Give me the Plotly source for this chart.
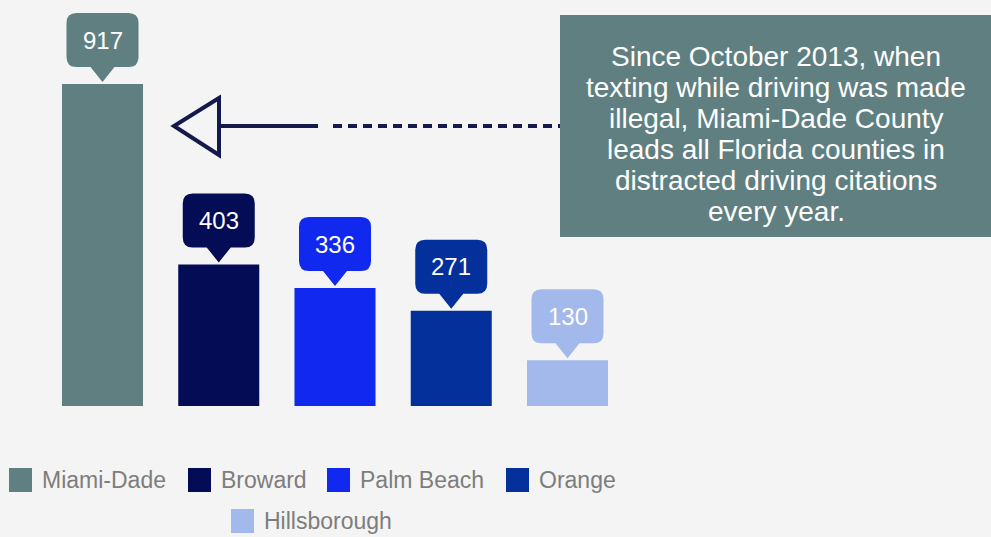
import plotly.graph_objects as go

# ---- data ----
counties = ["Miami-Dade", "Broward", "Palm Beach", "Orange", "Hillsborough"]
citations = [917, 403, 336, 271, 130]
colors = ["#5f7f81", "#030c55", "#1129ef", "#04309b", "#a3b8eb"]
note_lines = [
    "Since October 2013, when",
    "texting while driving was made",
    "illegal, Miami-Dade County",
    "leads all Florida counties in",
    "distracted driving citations",
    "every year.",
]

W, H = 991, 537
FONT = "Arial, Liberation Sans, sans-serif"
BG = "#f4f4f4"

# pixel helpers (plot area == whole figure)
def px(x):
    return x / W

def py(y):
    return 1 - y / H

idx = list(range(len(counties)))

fig = go.Figure()
fig.add_trace(go.Bar(
    x=idx, y=citations, marker=dict(color=colors, line=dict(width=0)),
    width=0.697, showlegend=False, hoverinfo="skip",
))

shapes = []
annotations = []

# speech-bubble value labels anchored to bar tops (pixel-sized)
bubble = ("M0,2 L12,17 L26,17 Q36,17 36,27 L36,61 Q36,71 26,71 "
          "L-26,71 Q-36,71 -36,61 L-36,27 Q-36,17 -26,17 L-12,17 Z")
for i, v, c in zip(idx, citations, colors):
    shapes.append(dict(type="path", xref="x", yref="y", xsizemode="pixel",
                       ysizemode="pixel", xanchor=i, yanchor=v, path=bubble,
                       fillcolor=c, line=dict(width=0), layer="above"))
    annotations.append(dict(x=i, y=v, xref="x", yref="y", text=str(v),
                            showarrow=False, yshift=44, yanchor="middle",
                            font=dict(family=FONT, size=24, color="white")))

# note box
shapes.append(dict(type="rect", xref="paper", yref="paper",
                   x0=px(560), x1=px(991), y0=py(237), y1=py(15),
                   fillcolor="#5f7f81", line=dict(width=0)))
for k, t in enumerate(note_lines):
    annotations.append(dict(x=px(776), y=py(56 + 31 * k), xref="paper", yref="paper",
                            text=t, showarrow=False, xanchor="center", yanchor="middle",
                            font=dict(family=FONT, size=28, color="white")))

# arrow
ac = "#141a4c"
shapes.append(dict(type="line", xref="paper", yref="paper",
                   x0=px(333), x1=px(560), y0=py(126), y1=py(126),
                   line=dict(color=ac, width=4, dash="9px,6px")))
shapes.append(dict(type="line", xref="paper", yref="paper",
                   x0=px(219), x1=px(318), y0=py(126), y1=py(126),
                   line=dict(color=ac, width=4)))
shapes.append(dict(type="path", xref="paper", yref="paper",
                   path=f"M{px(219)},{py(98)} L{px(174)},{py(126)} L{px(219)},{py(155)} Z",
                   fillcolor="rgba(0,0,0,0)", line=dict(color=ac, width=4)))

# legend (manual, larger swatches)
leg_x = [9, 188, 327, 506, 231]
leg_y = [480, 480, 480, 480, 521]
for name, c, lx, ly in zip(counties, colors, leg_x, leg_y):
    shapes.append(dict(type="rect", xref="paper", yref="paper",
                       x0=px(lx), x1=px(lx + 23), y0=py(ly + 12), y1=py(ly - 12),
                       fillcolor=c, line=dict(width=0)))
    annotations.append(dict(x=px(lx + 31), y=py(ly), xref="paper", yref="paper",
                            text=name, showarrow=False, xanchor="left", yanchor="middle",
                            font=dict(family=FONT, size=23, color="#7d7d7d")))

scale = 322 / 917
fig.update_layout(
    width=W, height=H,
    margin=dict(l=0, r=0, t=0, b=0),
    paper_bgcolor=BG, plot_bgcolor=BG,
    xaxis=dict(range=[-102.5 / 116.25, (W - 102.5) / 116.25], visible=False, fixedrange=True),
    yaxis=dict(range=[-(H - 406) / scale, 406 / scale], visible=False, fixedrange=True),
    shapes=shapes, annotations=annotations,
    showlegend=False,
)

fig.write_html(
    "out.html",
    config={"displayModeBar": False},
    post_script="document.body.style.margin='0';document.body.style.padding='0';"
                "document.body.style.overflow='hidden';"
                "document.body.style.background='" + BG + "';",
)
